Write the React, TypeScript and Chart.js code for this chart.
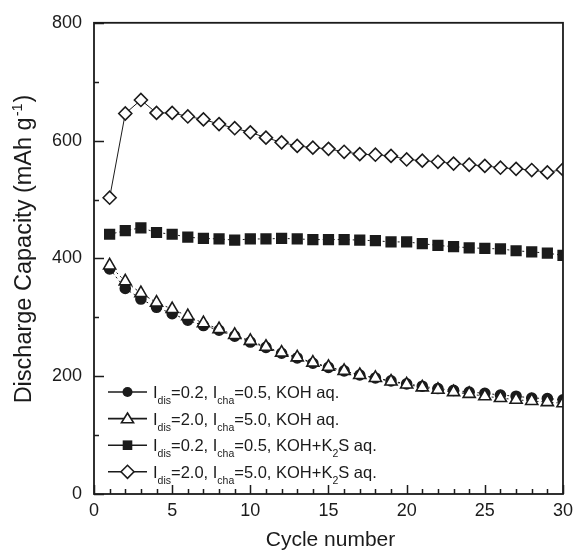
import React, { useEffect, useRef } from 'react';
import { Chart, registerables } from 'chart.js';

Chart.register(...registerables);

const cycles = [1, 2, 3, 4, 5, 6, 7, 8, 9, 10, 11, 12, 13, 14, 15, 16, 17, 18, 19, 20, 21, 22, 23, 24, 25, 26, 27, 28, 29, 30];

// I_dis=0.2, I_cha=0.5, KOH aq.  (filled circles)
const kohLow = [382, 349, 331, 317, 306, 295, 286, 278, 268, 258, 249, 239, 231, 222, 215, 209, 202, 197, 192, 187, 183, 179, 176, 173, 171, 168, 166, 163, 162, 160];
// I_dis=2.0, I_cha=5.0, KOH aq.  (open triangles)
const kohHigh = [388, 361, 341, 325, 314, 302, 290, 280, 270, 260, 250, 240, 232, 223, 216, 209, 202, 197, 191, 186, 181, 177, 173, 170, 166, 163, 160, 158, 156, 154];
// I_dis=0.2, I_cha=0.5, KOH+K2S aq.  (filled squares)
const k2sLow = [441, 447, 452, 444, 441, 436, 434, 433, 431, 433, 433, 434, 433, 432, 432, 432, 431, 430, 428, 428, 425, 422, 420, 418, 417, 416, 413, 411, 409, 405];
// I_dis=2.0, I_cha=5.0, KOH+K2S aq.  (open diamonds)
const k2sHigh = [503, 646, 669, 647, 647, 641, 636, 628, 621, 614, 605, 597, 591, 588, 586, 581, 577, 576, 574, 568, 566, 564, 561, 559, 557, 554, 552, 550, 546, 551];

const xMajorEvery = 5;
const yMajorEvery = 200;

// legend text segments; "_" prefix = subscript
const legendTexts: string[][] = [
  ['I', '_dis', '=0.2, I', '_cha', '=0.5, KOH aq.'],
  ['I', '_dis', '=2.0, I', '_cha', '=5.0, KOH aq.'],
  ['I', '_dis', '=0.2, I', '_cha', '=0.5, KOH+K', '_2', 'S aq.'],
  ['I', '_dis', '=2.0, I', '_cha', '=5.0, KOH+K', '_2', 'S aq.'],
];
const legendMarkers = ['circle', 'triangle', 'square', 'diamond'];

const xTitle = 'Cycle number';
const yTitleMain = 'Discharge Capacity (mAh g';
const yTitleSup = '-1';
const yTitleEnd = ')';

const FONT = '"Liberation Sans", Arial, Helvetica, sans-serif';
const INK = '#1b1b1b';

function toPoints(vals: number[]) {
  return cycles.map((c, i) => ({ x: c, y: vals[i] }));
}

function drawMarker(ctx: CanvasRenderingContext2D, kind: string, x: number, y: number) {
  ctx.save();
  ctx.lineWidth = 1.6;
  ctx.strokeStyle = INK;
  ctx.beginPath();
  if (kind === 'circle') {
    ctx.arc(x, y, 5, 0, Math.PI * 2);
    ctx.fillStyle = INK;
    ctx.fill();
  } else if (kind === 'square') {
    ctx.rect(x - 4.8, y - 4.8, 9.6, 9.6);
    ctx.fillStyle = INK;
    ctx.fill();
  } else if (kind === 'triangle') {
    const r = 7;
    ctx.moveTo(x, y - r * 0.8);
    ctx.lineTo(x + r * 0.866, y + r * 0.6);
    ctx.lineTo(x - r * 0.866, y + r * 0.6);
    ctx.closePath();
    ctx.fillStyle = '#fff';
    ctx.fill();
    ctx.stroke();
  } else {
    const r = 6.5;
    ctx.moveTo(x - r, y);
    ctx.lineTo(x, y - r);
    ctx.lineTo(x + r, y);
    ctx.lineTo(x, y + r);
    ctx.closePath();
    ctx.fillStyle = '#fff';
    ctx.fill();
    ctx.stroke();
  }
  ctx.restore();
}

const decorPlugin = {
  id: 'decor',
  afterDraw(chart: any) {
    const ctx: CanvasRenderingContext2D = chart.ctx;
    const ca = chart.chartArea;
    const xs = chart.scales.x;
    const ys = chart.scales.y;
    ctx.save();
    // frame
    ctx.strokeStyle = INK;
    ctx.lineWidth = 1.8;
    ctx.strokeRect(ca.left, ca.top, ca.right - ca.left, ca.bottom - ca.top);
    // inward ticks
    ctx.lineWidth = 1.5;
    ctx.beginPath();
    xs.ticks.forEach((t: any) => {
      const px = Math.round(xs.getPixelForValue(t.value)) + 0.5;
      const len = t.value % xMajorEvery === 0 ? 9 : 5;
      ctx.moveTo(px, ca.bottom);
      ctx.lineTo(px, ca.bottom - len);
    });
    ys.ticks.forEach((t: any) => {
      const py = Math.round(ys.getPixelForValue(t.value)) + 0.5;
      const len = t.value % yMajorEvery === 0 ? 10 : 5;
      ctx.moveTo(ca.left, py);
      ctx.lineTo(ca.left + len, py);
    });
    ctx.stroke();

    // axis titles
    ctx.fillStyle = INK;
    ctx.textBaseline = 'alphabetic';
    ctx.textAlign = 'center';
    ctx.font = `21px ${FONT}`;
    ctx.fillText(xTitle, (ca.left + ca.right) / 2 + 2, 546);

    ctx.save();
    ctx.translate(31, 249);
    ctx.rotate(-Math.PI / 2);
    ctx.textAlign = 'left';
    ctx.font = `23.5px ${FONT}`;
    const wa = ctx.measureText(yTitleMain).width;
    const wb = ctx.measureText(yTitleEnd).width;
    ctx.font = `14.5px ${FONT}`;
    const ws = ctx.measureText(yTitleSup).width;
    let sx = -(wa + ws + wb + 2) / 2;
    ctx.font = `23.5px ${FONT}`;
    ctx.fillText(yTitleMain, sx, 0);
    sx += wa + 1;
    ctx.font = `14.5px ${FONT}`;
    ctx.fillText(yTitleSup, sx, -9);
    sx += ws + 1;
    ctx.font = `23.5px ${FONT}`;
    ctx.fillText(yTitleEnd, sx, 0);
    ctx.restore();

    // legend
    const rowY0 = 392;
    const rowGap = 26.6;
    legendTexts.forEach((segs, i) => {
      const cy = rowY0 + i * rowGap;
      ctx.strokeStyle = INK;
      ctx.lineWidth = 1.6;
      ctx.beginPath();
      ctx.moveTo(108, cy);
      ctx.lineTo(147, cy);
      ctx.stroke();
      drawMarker(ctx, legendMarkers[i], 127.5, cy);
      let cx = 153;
      const base = cy + 6;
      ctx.textAlign = 'left';
      ctx.fillStyle = INK;
      segs.forEach((s) => {
        if (s.startsWith('_')) {
          const txt = s.slice(1);
          ctx.font = `10.5px ${FONT}`;
          ctx.fillText(txt, cx, base + 6);
          cx += ctx.measureText(txt).width;
        } else {
          ctx.font = `16.5px ${FONT}`;
          ctx.fillText(s, cx, base);
          cx += ctx.measureText(s).width;
        }
      });
    });
    ctx.restore();
  },
};

export default function App() {
  const canvasRef = useRef<HTMLCanvasElement | null>(null);

  useEffect(() => {
    if (!canvasRef.current) return;
    const common = {
      borderColor: INK,
      borderWidth: 1,
      pointBorderColor: INK,
      pointBorderWidth: 1.6,
      showLine: true,
    };
    const chart = new Chart(canvasRef.current, {
      type: 'scatter',
      data: {
        datasets: [
          {
            ...common,
            label: 'Idis=0.2, Icha=0.5, KOH aq.',
            data: toPoints(kohLow),
            pointStyle: 'circle',
            pointRadius: 5,
            pointBackgroundColor: INK,
            borderDash: [2, 3],
            order: 2,
          },
          {
            ...common,
            label: 'Idis=2.0, Icha=5.0, KOH aq.',
            data: toPoints(kohHigh),
            pointStyle: 'triangle',
            pointRadius: 7,
            pointBackgroundColor: '#fff',
            borderDash: [2, 3],
            order: 1,
          },
          {
            ...common,
            label: 'Idis=0.2, Icha=0.5, KOH+K2S aq.',
            data: toPoints(k2sLow),
            pointStyle: 'rect',
            pointRadius: 6.8,
            pointBackgroundColor: INK,
            borderDash: [2, 3],
            order: 3,
          },
          {
            ...common,
            label: 'Idis=2.0, Icha=5.0, KOH+K2S aq.',
            data: toPoints(k2sHigh),
            pointStyle: 'rectRot',
            pointRadius: 6.5,
            pointBackgroundColor: '#fff',
            order: 4,
          },
        ],
      },
      options: {
        responsive: false,
        animation: false,
        layout: { padding: { top: 21, right: 11, left: 0, bottom: 0 } },
        plugins: {
          legend: { display: false },
          tooltip: { enabled: false },
        },
        scales: {
          x: {
            type: 'linear',
            min: 0,
            max: 30,
            grid: { display: true, drawOnChartArea: false, drawTicks: false },
            border: { display: false },
            ticks: {
              stepSize: 1,
              autoSkip: false,
              maxRotation: 0,
              padding: 6,
              color: INK,
              font: { family: FONT, size: 18 },
              callback: (v: any) => (Number(v) % xMajorEvery === 0 ? String(v) : ''),
            },
            afterFit: (s: any) => {
              s.height = 56;
            },
          },
          y: {
            type: 'linear',
            min: 0,
            max: 800,
            grid: { display: true, drawOnChartArea: false, drawTicks: false },
            border: { display: false },
            ticks: {
              stepSize: 100,
              autoSkip: false,
              padding: 12,
              color: INK,
              font: { family: FONT, size: 18 },
              callback: (v: any) => (Number(v) % yMajorEvery === 0 ? String(v) : ''),
            },
            afterFit: (s: any) => {
              s.width = 94;
            },
          },
        },
      },
      plugins: [decorPlugin],
    });
    return () => chart.destroy();
  }, []);

  return (
    <div style={{ position: 'absolute', left: 0, top: 0, width: 579, height: 550, background: '#fff' }}>
      <canvas ref={canvasRef} width={579} height={550} style={{ display: 'block' }} />
    </div>
  );
}
